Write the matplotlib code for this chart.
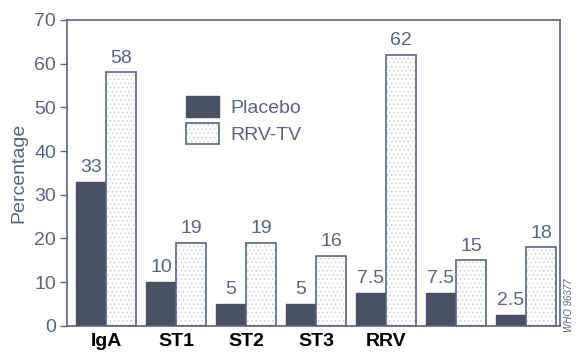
import matplotlib
matplotlib.use("Agg")
import matplotlib.pyplot as plt
import matplotlib.colors as mcolors
import numpy as np

categories = ["IgA", "ST1", "ST2", "ST3", "RRV", "", ""]
placebo = [33, 10, 5, 5, 7.5, 7.5, 2.5]
rrv_tv = [58, 19, 19, 16, 62, 15, 18]
placebo_labels = ["33", "10", "5", "5", "7.5", "7.5", "2.5"]
rrv_labels = ["58", "19", "19", "16", "62", "15", "18"]
yticks = [0, 10, 20, 30, 40, 50, 60, 70]

plt.rcParams['font.family'] = ['Liberation Sans', 'DejaVu Sans']
plt.rcParams['hatch.linewidth'] = 0.6
ink = "#5b6380"
dark = "#4b4f63"
fs = 14

fig = plt.figure(figsize=(5.79, 3.55), dpi=100)
ax = fig.add_axes([0.116, 0.082, 0.851, 0.862])

x = np.arange(len(categories))
w = 0.43
ax.bar(x - w/2, placebo, w, color=dark, edgecolor=dark, linewidth=1, label="Placebo")
bars2 = ax.bar(x + w/2, rrv_tv, w, color="white", edgecolor=ink, linewidth=1.2,
               hatch="....", label="RRV-TV")
hc = mcolors.to_rgba("#cdd0da")
for p in bars2:
    p._hatch_color = hc

for xi, v, t in zip(x - w/2, placebo, placebo_labels):
    ax.text(xi, v + 1.3, t, ha="center", va="bottom", fontsize=fs, color=ink)
for xi, v, t in zip(x + w/2, rrv_tv, rrv_labels):
    ax.text(xi, v + 1.3, t, ha="center", va="bottom", fontsize=fs, color=ink)

ax.set_xlim(-0.557, 6.486)
ax.set_ylim(0, 70)
ax.set_yticks(yticks)
ax.set_yticklabels([str(t) for t in yticks], fontsize=fs, color=ink)
ax.set_xticks(x)
ax.set_xticklabels(categories, fontsize=fs, fontweight="bold", color="black")
ax.tick_params(axis="x", length=0, pad=5)
ax.tick_params(axis="y", direction="out", length=5, width=1, color=ink, pad=3)
ax.set_ylabel("Percentage", fontsize=fs, color=ink, labelpad=5)
for s in ax.spines.values():
    s.set_color(ink)
    s.set_linewidth(1.2)

leg = ax.legend(loc="upper left", bbox_to_anchor=(0.205, 0.81), frameon=False,
                fontsize=fs, handlelength=1.7, handleheight=1.3, labelspacing=0.3,
                handletextpad=0.6)
for t in leg.get_texts():
    t.set_color(ink)
for h in leg.legend_handles:
    if h.get_hatch():
        h._hatch_color = hc

fig.text(0.982, 0.14, "WHO 96377", rotation=90, fontsize=7, style="italic",
         color=ink, ha="center", va="center")

fig.savefig("out.png", dpi=100)
